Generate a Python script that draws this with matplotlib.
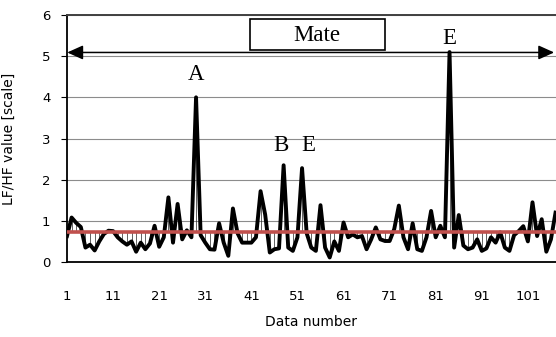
import matplotlib
matplotlib.use("Agg")
import matplotlib.pyplot as plt
from matplotlib.patches import Rectangle
import numpy as np

# Data
lfhf = [0.63, 1.08, 0.95, 0.85, 0.35, 0.42, 0.28, 0.5, 0.68, 0.76,
        0.75, 0.6, 0.5, 0.42, 0.5, 0.25, 0.47, 0.31, 0.45, 0.88,
        0.37, 0.6, 1.57, 0.47, 1.41, 0.55, 0.77, 0.6, 4.0, 0.65,
        0.47, 0.31, 0.3, 0.94, 0.47, 0.15, 1.3, 0.7, 0.47, 0.47,
        0.47, 0.6, 1.72, 1.15, 0.23, 0.31, 0.33, 2.35, 0.35, 0.27,
        0.6, 2.28, 0.7, 0.35, 0.27, 1.38, 0.35, 0.11, 0.5, 0.27,
        0.96, 0.6, 0.67, 0.6, 0.63, 0.31, 0.55, 0.84, 0.55, 0.51,
        0.51, 0.8, 1.37, 0.6, 0.31, 0.94, 0.31, 0.27, 0.6, 1.24,
        0.6, 0.88, 0.6, 5.1, 0.35, 1.14, 0.4, 0.31, 0.35, 0.55,
        0.27, 0.33, 0.6, 0.47, 0.72, 0.35, 0.27, 0.65, 0.75, 0.87,
        0.5, 1.45, 0.63, 1.04, 0.25, 0.55, 1.2]
mean_level = 0.72
x = np.arange(1, len(lfhf) + 1)
mean_line = [mean_level] * len(lfhf)
xtick_labels = [str(v) for v in range(1, 102, 10)]
peak_labels = [("A", 29, 4.56), ("B", 47.4, 2.83), ("E", 53.3, 2.83), ("E", 83.9, 5.44)]

fig = plt.figure(figsize=(5.56, 3.37), dpi=100)
ax = fig.add_axes([67/556, 1 - 262/337, 1 - 67/556, (262 - 15)/337])

ax.set_xlim(1, 107.1)
ax.set_ylim(0, 6)
ax.set_yticks(range(0, 7))
ax.grid(axis='y', color='#8c8c8c', lw=0.8, zorder=0)
ax.set_axisbelow(True)

# high-low lines between series and mean line
lo = np.minimum(lfhf, mean_line)
hi = np.maximum(lfhf, mean_line)
ax.vlines(x, lo, hi, color='#222222', lw=0.5, zorder=2)

ax.plot(x, lfhf, color='black', lw=2.8, zorder=3, solid_joinstyle='round')
ax.plot(x, mean_line, color='#C0504D', lw=2.6, zorder=4)

# ticks
ax.set_xticks([int(t) for t in xtick_labels])
ax.set_xticklabels(xtick_labels)
ax.tick_params(axis='x', length=0, pad=20, labelsize=9.5)
ax.tick_params(axis='y', length=4, width=0.8, pad=8, labelsize=9.5, direction='out')

for s in ['left', 'bottom']:
    ax.spines[s].set_color('black')
    ax.spines[s].set_linewidth(1.3)
ax.spines['top'].set_color('#404040')
ax.spines['top'].set_linewidth(1.4)
ax.spines['right'].set_visible(False)

ax.set_xlabel('Data number', fontsize=10, va='center')
ax.xaxis.set_label_coords((311 - 67) / (556 - 67), (262 - 322) / 247)
ax.set_ylabel('LF/HF value [scale]', fontsize=10)
ax.yaxis.set_label_coords((15.5 - 67) / (556 - 67), 0.5)

# arrow
ax.annotate('', xy=(106.7, 5.09), xytext=(1.05, 5.09),
            arrowprops=dict(arrowstyle='<|-|>,head_length=0.8,head_width=0.36',
                            color='black', lw=1.1, mutation_scale=12,
                            shrinkA=0, shrinkB=0), zorder=5, annotation_clip=False)

# Mate box
ax.add_patch(Rectangle((40.6, 5.15), 29.3, 0.75, fill=False, ec='black', lw=1.2, zorder=5))
ax.text(55.25, 5.5, 'Mate', ha='center', va='center', fontsize=16.5,
        family='Liberation Serif', zorder=6)

for lab, xi, yi in peak_labels:
    ax.text(xi, yi, lab, ha='center', va='center', fontsize=16.5,
            family='Liberation Serif', zorder=6)

fig.savefig('out.png', dpi=100)
